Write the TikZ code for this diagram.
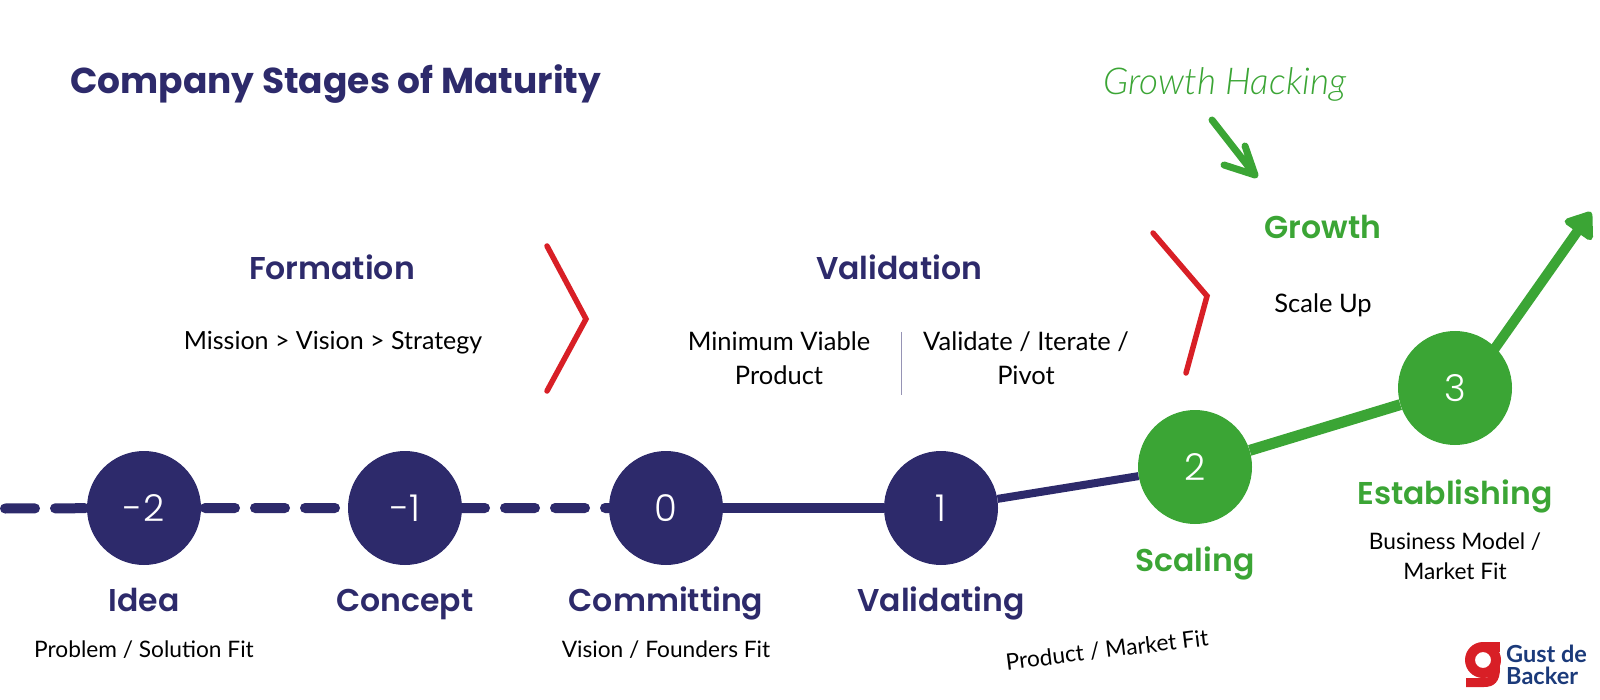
\documentclass[tikz,border=0pt]{standalone}
\usepackage{xcolor}
\usepackage{fontspec}
\usepackage{tikz}
\usetikzlibrary{positioning,arrows.meta,backgrounds}
\setmainfont{Lato}
\newfontfamily\titlefont{Poppins}[UprightFont=* Bold]
\newfontfamily\headfont{Poppins}[UprightFont=* SemiBold]
\newfontfamily\numfont{Poppins}[UprightFont=* Light]
\newfontfamily\hackfont{Lato}[UprightFont=* Light,ItalicFont=* Light Italic]
\definecolor{navy}{HTML}{2D2A6B}
\definecolor{leaf}{HTML}{3BA535}
\definecolor{alert}{HTML}{D81F26}
\definecolor{logoblue}{HTML}{1B3A7A}

\begin{document}
\begin{tikzpicture}[
    x=1pt, y=-1pt,
    stage/.style={circle, fill=navy, text=white, minimum size=114pt, inner sep=0pt, font=\numfont\fontsize{37}{37}\selectfont},
    growstage/.style={stage, fill=leaf},
    stagename/.style={text=navy, inner sep=0pt, text height=23pt, text depth=7pt, font=\headfont\fontsize{31.5}{31.5}\selectfont},
    growname/.style={stagename, text=leaf},
    note/.style={align=center, inner sep=0pt, font=\fontsize{22.7}{30}\selectfont},
    phasenote/.style={note, font=\fontsize{25.5}{34}\selectfont},
    chevron/.style={draw=alert, line width=5.5pt, line cap=round, miter limit=10},
    link/.style={line width=10pt, draw=navy}
]
\useasboundingbox (0,0) rectangle (1600,700);

% Title
\node[anchor=west, text=navy, inner sep=0pt, font=\titlefont\fontsize{36}{36}\selectfont] (title) at (70,84) {Company Stages of Maturity};

% Stages
\node[stage] (idea) at (144,508) {-2};
\node[stage] (concept) at (405,508) {-1};
\node[stage] (committing) at (666,508) {0};
\node[stage] (validating) at (941,508) {1};
\node[growstage] (scaling) at (1195,467) {2};
\node[growstage] (establishing) at (1455,388) {3};

% Stage names
\node[stagename, below=23pt of idea] (ideaname) {Idea};
\node[stagename, below=23pt of concept] (conceptname) {Concept};
\node[stagename, below=23pt of committing] (committingname) {Committing};
\node[stagename, below=23pt of validating] (validatingname) {Validating};
\node[growname, below=24pt of scaling] (scalingname) {Scaling};
\node[growname, below=36pt of establishing] (establishingname) {Establishing};

% Fit notes
\node[note] (ideanote) at (144,650) {Problem / Solution Fit};
\node[note] (committingnote) at (666,650) {Vision / Founders Fit};
\node[note, rotate=7] (scalingnote) at (1107,650) {Product / Market Fit};
\node[note] (establishingnote) at (1455,556) {Business Model /\\Market Fit};

% Phases
\node[stagename] (formation) at (332,272) {Formation};
\node[phasenote, font=\fontsize{25}{34}\selectfont] (formationnote) at (333,343) {Mission > Vision > Strategy};
\node[stagename] (validation) at (899,272) {Validation};
\node[phasenote] (mvp) at (779,358) {Minimum Viable\\Product};
\node[phasenote] (pivot) at (1026,358) {Validate / Iterate /\\Pivot};
\coordinate (septop) at (901,332);
\coordinate (sepbottom) at (901,395);
\draw[navy!50, line width=0.7pt] (septop) -- (sepbottom);
\node[growname] (growth) at (1323,231) {Growth};
\node[phasenote] (scaleup) at (1323,305) {Scale Up};
\node[text=leaf, inner sep=0pt, font=\hackfont\itshape\fontsize{37}{37}\selectfont] (hacking) at (1225,84) {Growth Hacking};

% Chevrons
\coordinate (chevaa) at (547,246);
\coordinate (chevab) at (586,319);
\coordinate (chevac) at (547,391);
\draw[chevron] (chevaa) -- (chevab) -- (chevac);
\coordinate (chevba) at (1153,233);
\coordinate (chevbb) at (1207,296);
\coordinate (chevbc) at (1186,373);
\draw[chevron] (chevba) -- (chevbb) -- (chevbc);

% Connectors
\coordinate (dashstart) at (5,508.5);
\coordinate (arrowtip) at (1591,212);
\begin{scope}[on background layer]
\draw[link, line cap=round, dash pattern=on 30pt off 20pt] (dashstart) -- (idea.center) -- (concept.center) -- (committing.center);
\draw[link, draw=leaf, fill=leaf, shorten <=-6pt, -{Triangle[width=38pt,length=27pt,round]}] (establishing.north east) -- (arrowtip);
\end{scope}
\draw[link] (committing) -- (validating);
\draw[link, line width=8pt] (validating) -- (scaling);
\draw[link, draw=leaf, line width=11pt] (scaling) -- (establishing);

% Growth hacking arrow
\coordinate (hacktail) at (1212,120);
\coordinate (hackhead) at (1255,175);
\coordinate (hackbarba) at (1224,165);
\coordinate (hackbarbb) at (1245,146);
\draw[draw=leaf, line width=7pt, line cap=round, line join=round] (hacktail) -- (hackhead) (hackbarba) -- (hackhead) -- (hackbarbb);

% Logo
\fill[alert, even odd rule] (1483,660) circle (18pt) (1483,660) circle (8pt);
\fill[alert] (1484,642) rectangle (1500,652);
\fill[alert] (1491,655) rectangle (1500,668);
\fill[alert] (1466,678) -- (1484,678) .. controls (1490,678) and (1491,675) .. (1491,668) -- (1500,668) .. controls (1500,682) and (1494,687) .. (1484,687) -- (1466,687) -- cycle;
\node[anchor=north west, text=logoblue, align=left, inner sep=0pt, font=\bfseries\fontsize{23.5}{22}\selectfont] (logotext) at (1506,645) {Gust de\\Backer};
\end{tikzpicture}
\end{document}
